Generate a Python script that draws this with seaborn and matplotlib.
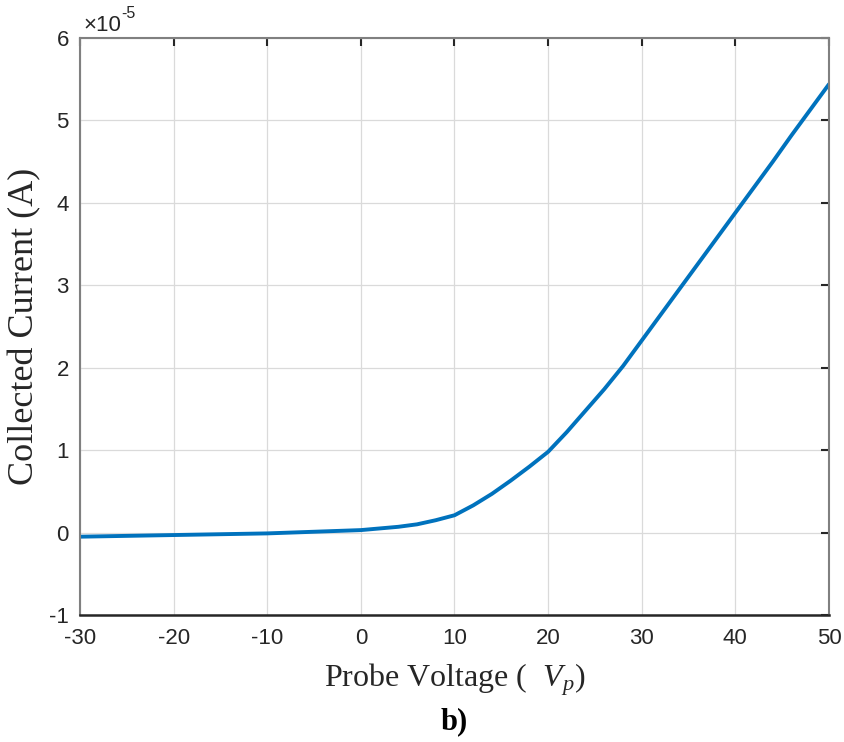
import numpy as np
import pandas as pd
import matplotlib
matplotlib.use("Agg")
import matplotlib.pyplot as plt
import seaborn as sns
from matplotlib.ticker import FuncFormatter

# Data (current read in units of 1e-5 A)
voltage = [-30, -25, -20, -15, -10, -5, 0, 2, 4, 6, 8, 10, 12, 14, 16, 18, 20,
           22, 24, 26, 28, 30, 32, 34, 36, 38, 40, 42, 44, 46, 48, 50]
current_e5 = [-0.05, -0.04, -0.03, -0.02, -0.01, 0.01, 0.03, 0.05, 0.07, 0.10,
              0.15, 0.21, 0.33, 0.47, 0.63, 0.80, 0.98, 1.22, 1.48, 1.74, 2.02,
              2.33, 2.64, 2.95, 3.26, 3.57, 3.88, 4.19, 4.50, 4.82, 5.13, 5.44]
scale = 1e-5
x_ticks = [-30, -20, -10, 0, 10, 20, 30, 40, 50]
y_ticks_e5 = [-1, 0, 1, 2, 3, 4, 5, 6]

df = pd.DataFrame({"V": voltage, "I": np.array(current_e5) * scale})

sns.set_style("white")
plt.rcParams["font.family"] = ["Liberation Sans", "DejaVu Sans"]
plt.rcParams["axes.unicode_minus"] = False
plt.rcParams["mathtext.fontset"] = "custom"
plt.rcParams["mathtext.rm"] = "Liberation Serif"
plt.rcParams["mathtext.it"] = "Liberation Serif:italic"

fig = plt.figure(figsize=(8.45, 7.42), dpi=100)
ax = fig.add_axes([80 / 845, 1 - 615 / 742, (829 - 80) / 845, (615 - 38) / 742])

sns.lineplot(data=df, x="V", y="I", ax=ax, color="#0072BD", linewidth=2.8)

ax.set_xlim(-30, 50)
ax.set_ylim(-1 * scale, 6 * scale)
ax.set_xticks(x_ticks)
ax.set_yticks([v * scale for v in y_ticks_e5])
ax.yaxis.set_major_formatter(FuncFormatter(lambda v, p: f"{v / scale:.0f}"))
ax.xaxis.set_major_formatter(FuncFormatter(lambda v, p: f"{v:.0f}"))

ax.grid(True, color="#dadada", linewidth=0.9)
ax.set_axisbelow(True)

for side in ["left", "top", "right"]:
    ax.spines[side].set_color("#808080")
    ax.spines[side].set_linewidth(1.5)
ax.spines["bottom"].set_color("#262626")
ax.spines["bottom"].set_linewidth(1.8)

ax.tick_params(axis="both", which="major", direction="in", length=6, width=1.5,
               color="#262626", labelsize=16, labelcolor="#262626",
               top=True, right=True)
ax.tick_params(axis="x", pad=9)
ax.tick_params(axis="y", pad=8)

ax.set_xlabel("Probe Voltage (  $V_p$)", fontsize=23, family="Liberation Serif",
              color="#262626", labelpad=9)
ax.set_ylabel("Collected Current (A)", fontsize=26, family="Liberation Serif",
              color="#262626")
ax.yaxis.set_label_coords((41 - 80) / 749, 0.5)

t1 = ax.text(0.004, 1.004, "\u00d710", transform=ax.transAxes, fontsize=16,
             ha="left", va="bottom", color="#262626")
fig.canvas.draw()
bb = t1.get_window_extent().transformed(ax.transAxes.inverted())
ax.text(bb.x1, bb.y0 + 0.026, "-5", transform=ax.transAxes, fontsize=11.5,
        ha="left", va="bottom", color="#262626")

fig.text((80 + 829) / 2 / 845, 1 - 722 / 742, "b)", fontsize=22,
         family="Liberation Serif", fontweight="bold", ha="center", va="center",
         color="black")

fig.savefig("out.png", dpi=100)
